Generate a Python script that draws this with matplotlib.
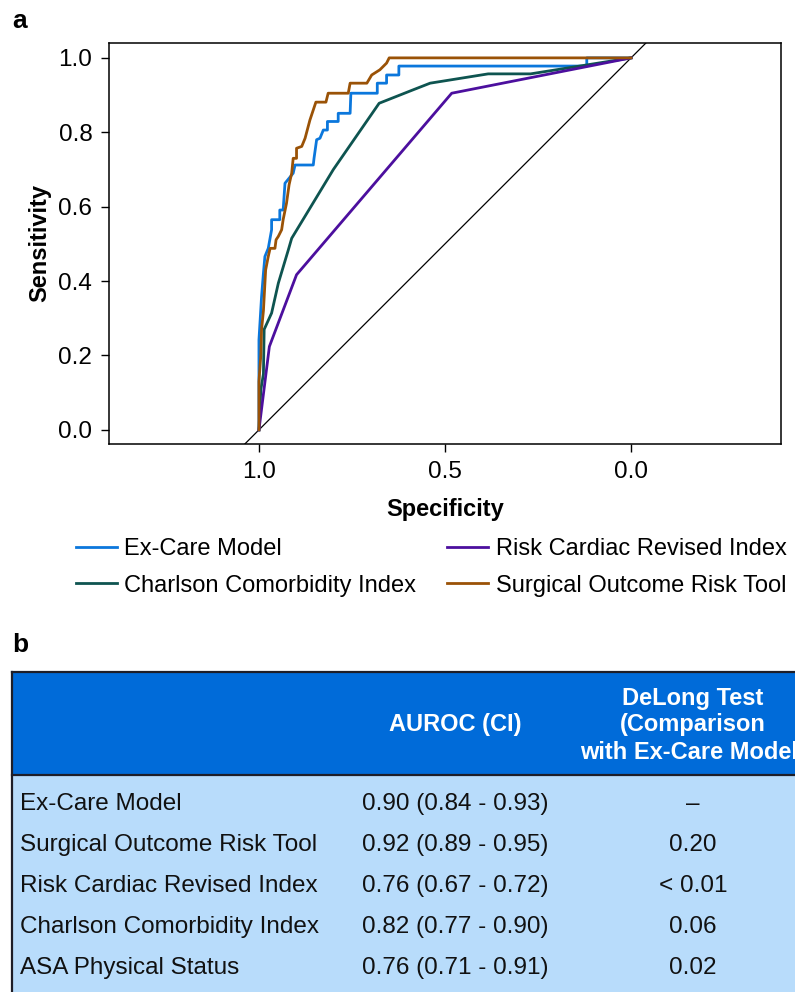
import matplotlib
matplotlib.use("Agg")
import matplotlib.pyplot as plt
from matplotlib.patches import Rectangle

plt.rcParams['font.family'] = ['Liberation Sans', 'DejaVu Sans']

# ---------------- data ----------------
excare_spec = [1.000, 1.000, 0.993, 0.988, 0.984, 0.975, 0.966, 0.966, 0.944, 0.944, 0.935, 0.930,
               0.908, 0.903, 0.854, 0.852, 0.845, 0.836, 0.827, 0.816, 0.816, 0.787, 0.787, 0.755,
               0.753, 0.682, 0.682, 0.657, 0.657, 0.624, 0.624, 0.119, 0.119, 0.000]
excare_sens = [0.000, 0.242, 0.358, 0.421, 0.466, 0.488, 0.538, 0.565, 0.565, 0.591, 0.591, 0.663,
               0.690, 0.712, 0.712, 0.730, 0.780, 0.784, 0.806, 0.806, 0.829, 0.829, 0.851, 0.851,
               0.905, 0.905, 0.932, 0.932, 0.954, 0.954, 0.978, 0.978, 1.000, 1.000]

sort_spec = [1.000, 1.000, 0.995, 0.993, 0.988, 0.982, 0.975, 0.970, 0.957, 0.954, 0.948, 0.939,
             0.935, 0.926, 0.919, 0.912, 0.908, 0.899, 0.899, 0.885, 0.876, 0.863, 0.847, 0.820,
             0.814, 0.760, 0.755, 0.710, 0.697, 0.675, 0.657, 0.650, 0.000]
sort_sens = [0.000, 0.130, 0.200, 0.270, 0.320, 0.430, 0.466, 0.488, 0.488, 0.511, 0.520, 0.538,
             0.565, 0.609, 0.659, 0.690, 0.730, 0.730, 0.757, 0.762, 0.784, 0.833, 0.881, 0.881,
             0.905, 0.905, 0.932, 0.932, 0.954, 0.968, 0.986, 1.000, 1.000]

cci_spec = [1.000, 0.995, 0.988, 0.986, 0.966, 0.948, 0.921, 0.912, 0.800, 0.677, 0.586, 0.540,
            0.384, 0.270, 0.000]
cci_sens = [0.000, 0.108, 0.150, 0.270, 0.314, 0.394, 0.484, 0.515, 0.700, 0.878, 0.914, 0.932,
            0.957, 0.957, 1.000]

rcri_spec = [1.000, 0.972, 0.899, 0.482, 0.000]
rcri_sens = [0.000, 0.224, 0.417, 0.905, 1.000]

series_names = ["Ex-Care Model", "Charlson Comorbidity Index",
                "Risk Cardiac Revised Index", "Surgical Outcome Risk Tool"]

x_ticks = [1.0, 0.5, 0.0]
y_ticks = [0.0, 0.2, 0.4, 0.6, 0.8, 1.0]

table_rows = ["Ex-Care Model", "Surgical Outcome Risk Tool", "Risk Cardiac Revised Index",
              "Charlson Comorbidity Index", "ASA Physical Status"]
table_auroc = ["0.90 (0.84 - 0.93)", "0.92 (0.89 - 0.95)", "0.76 (0.67 - 0.72)",
               "0.82 (0.77 - 0.90)", "0.76 (0.71 - 0.91)"]
table_delong = ["\u2013", "0.20", "< 0.01", "0.06", "0.02"]
header_auroc = "AUROC (CI)"
header_delong = ["DeLong Test", "(Comparison", "with Ex-Care Model)"]

# ---------------- figure ----------------
W, H = 795, 992
fig = plt.figure(figsize=(W / 100, H / 100), dpi=100)

bg = fig.add_axes([0, 0, 1, 1])
bg.set_xlim(0, W)
bg.set_ylim(H, 0)
bg.axis('off')

c_blue = '#0b77dc'
c_green = '#0e5450'
c_purple = '#4c0f9e'
c_brown = '#9a5206'

ax = fig.add_axes([109 / W, 1 - 444 / H, (781 - 109) / W, (444 - 43) / H])
ax.plot(excare_spec, excare_sens, color=c_blue, lw=2.0, label=series_names[0], zorder=3)
ax.plot(cci_spec, cci_sens, color=c_green, lw=2.0, label=series_names[1], zorder=3)
ax.plot(rcri_spec, rcri_sens, color=c_purple, lw=2.0, label=series_names[2], zorder=3)
ax.plot(sort_spec, sort_sens, color=c_brown, lw=2.0, label=series_names[3], zorder=4)
ax.axline((1, 0), (0, 1), color='black', lw=0.9, zorder=2)
ax.set_xlim(1.403, -0.403)
ax.set_ylim(-0.038, 1.040)
ax.set_xticks(x_ticks)
ax.set_xticklabels([f"{v:.1f}" for v in x_ticks])
ax.set_yticks(y_ticks)
ax.set_yticklabels([f"{v:.1f}" for v in y_ticks])
ax.tick_params(labelsize=17.5, length=6, width=1.0, direction='out', pad=6)
for s in ax.spines.values():
    s.set_linewidth(1.1)
ax.set_xlabel("Specificity", fontsize=17, fontweight='bold', labelpad=11)
ax.set_ylabel("Sensitivity", fontsize=17, fontweight='bold', labelpad=5)

handles, labels = ax.get_legend_handles_labels()
leg = fig.legend(handles, labels,
                 loc='upper left', bbox_to_anchor=(76 / W, 1 - 538 / H), ncol=2,
                 frameon=False, fontsize=17, handlelength=1.75, handletextpad=0.3,
                 columnspacing=1.3, labelspacing=0.62, borderpad=0, borderaxespad=0)

fig.text(12 / W, 1 - 28 / H, "a", fontsize=19, fontweight='bold', va='baseline', ha='left')
fig.text(12 / W, 1 - 652 / H, "b", fontsize=19, fontweight='bold', va='baseline', ha='left')

# ---------------- table ----------------
top, sep, left = 672, 775, 12
bg.add_patch(Rectangle((left, top), W - left + 5, sep - top, facecolor='#006bd9', edgecolor='none'))
bg.add_patch(Rectangle((left, sep), W - left + 5, H - sep + 5, facecolor='#b8dcfb', edgecolor='none'))
bg.plot([left, W + 5], [top, top], color='#1e1e28', lw=1.6)
bg.plot([left, W + 5], [sep, sep], color='#1e1e28', lw=1.6)
bg.plot([left, left], [top, H + 5], color='#1e1e28', lw=1.6)

col1_x, col2_x, col3_x = 20, 455, 693
bg.text(col2_x, 725, header_auroc, color='white', fontsize=17, fontweight='bold',
        ha='center', va='center')
for i, t in enumerate(header_delong):
    bg.text(col3_x, 698 + 27 * i, t, color='white', fontsize=17, fontweight='bold',
            ha='center', va='center')

row_y0, row_dy = 804, 41
for i in range(len(table_rows)):
    y = row_y0 + row_dy * i
    bg.text(col1_x, y, table_rows[i], fontsize=17.5, ha='left', va='center', color='#111111')
    bg.text(col2_x, y, table_auroc[i], fontsize=17.5, ha='center', va='center', color='#111111')
    bg.text(col3_x, y, table_delong[i], fontsize=17.5, ha='center', va='center', color='#111111')

fig.savefig("out.png", dpi=100)
